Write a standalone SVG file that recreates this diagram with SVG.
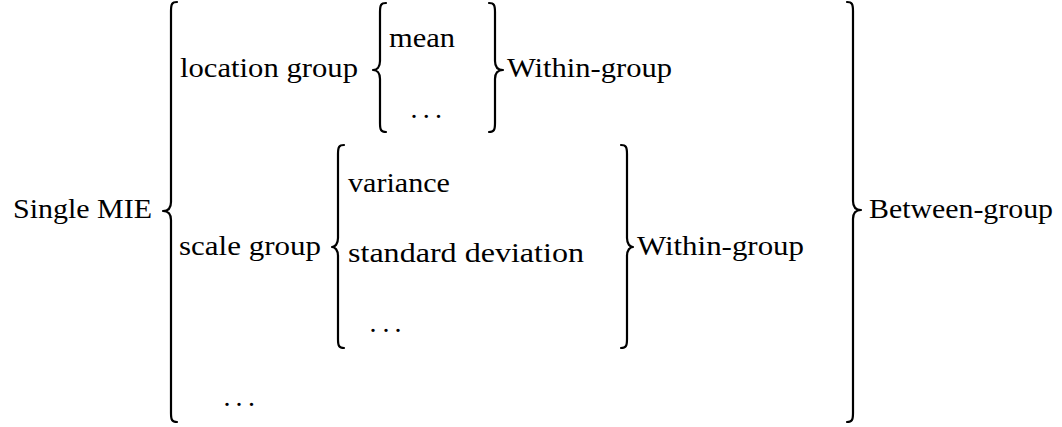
<svg xmlns="http://www.w3.org/2000/svg" width="1062" height="427" viewBox="0 0 1062 427">
  <style>
    .brace { fill: none; stroke: #000; stroke-width: 2.2; stroke-linecap: round; stroke-linejoin: round; }
    text { font-family: "Liberation Serif", "Times New Roman", "DejaVu Serif", serif; font-size: 28px; fill: #000; }
  </style>
  <rect width="1062" height="427" fill="#fff"/>
  <g id="connectors">
    <path class="brace" d="M177,2 C172,2 171,4 171,11 L171,202 C171,208 168,211 163,211 C168,211 171,214 171,220 L171,413 C171,420 172,422 177,422"/>
    <path class="brace" d="M386,3 C381,3 380,5 380,12 L380,61 C380,67 377,70 373,70 C377,70 380,73 380,79 L380,123 C380,130 381,132 386,132"/>
    <path class="brace" d="M489,3 C494,3 495,5 495,12 L495,61 C495,67 498,70 503,70 C498,70 495,73 495,79 L495,123 C495,130 494,132 489,132"/>
    <path class="brace" d="M344,145 C339,145 338,147 338,154 L338,238 C338,244 335,247 332,247 C335,247 338,250 338,256 L338,339 C338,346 339,348 344,348"/>
    <path class="brace" d="M621,145 C626,145 627,147 627,154 L627,238 C627,244 630,247 633,247 C630,247 627,250 627,256 L627,339 C627,346 626,348 621,348"/>
    <path class="brace" d="M847,2 C852,2 853,4 853,11 L853,201 C853,207 856,210 861,210 C856,210 853,213 853,219 L853,413 C853,420 852,422 847,422"/>
  </g>
  <g id="single-mie"><text x="13" y="218" textLength="139" lengthAdjust="spacingAndGlyphs">Single MIE</text></g>
  <g id="location-group"><text x="180" y="77" textLength="178" lengthAdjust="spacingAndGlyphs">location group</text></g>
  <g id="mean"><text x="389" y="47" textLength="66" lengthAdjust="spacingAndGlyphs">mean</text></g>
  <g id="location-dots"><text x="410.5 422.7 435" y="118">...</text></g>
  <g id="within-group-1"><text x="507" y="77" textLength="165" lengthAdjust="spacingAndGlyphs">Within-group</text></g>
  <g id="scale-group"><text x="179" y="255" textLength="142" lengthAdjust="spacingAndGlyphs">scale group</text></g>
  <g id="variance"><text x="348" y="192" textLength="102" lengthAdjust="spacingAndGlyphs">variance</text></g>
  <g id="standard-deviation"><text x="348" y="262" textLength="236" lengthAdjust="spacingAndGlyphs">standard deviation</text></g>
  <g id="scale-dots"><text x="369.5 382.5 394.5" y="332">...</text></g>
  <g id="within-group-2"><text x="637" y="255" textLength="167" lengthAdjust="spacingAndGlyphs">Within-group</text></g>
  <g id="other-dots"><text x="223.5 235.5 248" y="406">...</text></g>
  <g id="between-group"><text x="869" y="218" textLength="184" lengthAdjust="spacingAndGlyphs">Between-group</text></g>
</svg>
